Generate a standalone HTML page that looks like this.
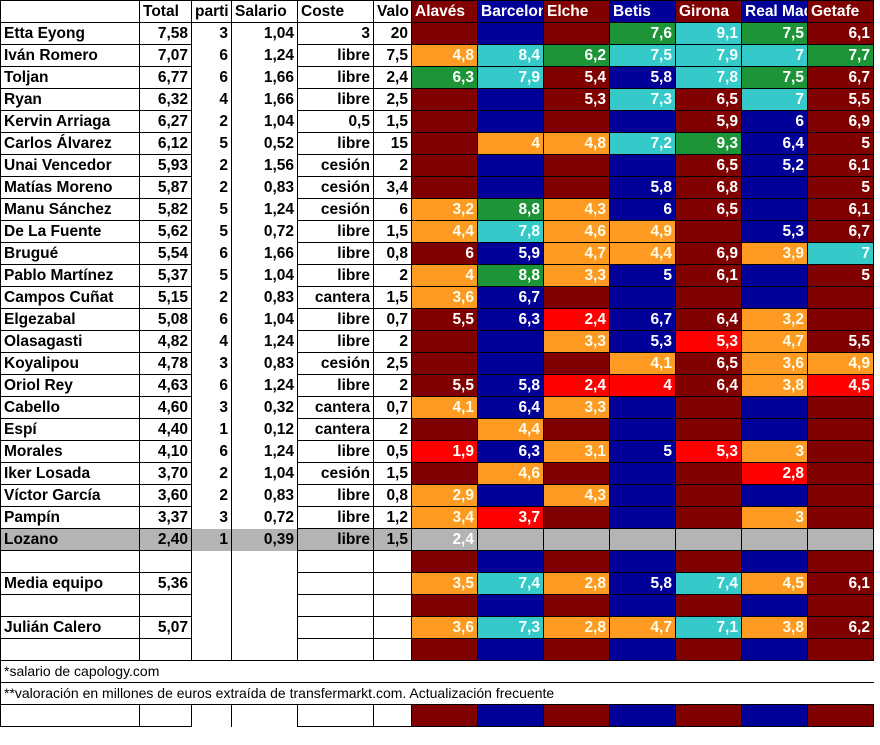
<!DOCTYPE html>
<html><head><meta charset="utf-8"><style>
body{margin:0;background:#fff;width:880px;height:745px;overflow:hidden}
table{border-collapse:collapse;table-layout:fixed;width:873px;font-family:"Liberation Sans",Arial,sans-serif;font-weight:bold;font-size:15.5px}
td{height:21px;padding:0 3px;border:1px solid #000;text-align:right;white-space:nowrap;overflow:hidden;line-height:21px}
td.l{text-align:left}
td.n{border-top:none;border-bottom:none}
tr.h td{text-align:left}
tr.h td.t{color:#fff}
.o{background:#ff9a22;color:#fffbe6}.c{background:#36c9c9;color:#f4ffff}.g{background:#1d9437;color:#fff}.r{background:#ff0000;color:#fff}
.d{color:#fff}
tr.gr td{background:#b4b4b4}
tr.f td{background:#fff;text-align:left;font-weight:normal;font-size:14px}
</style></head><body>
<table>
<colgroup><col style="width:139px;background:#fff"><col style="width:52px;background:#fff"><col style="width:40px;background:#fff"><col style="width:66px;background:#fff"><col style="width:76px;background:#fff"><col style="width:38px;background:#fff">
<col style="width:66px;background:#800000"><col style="width:66px;background:#000099"><col style="width:66px;background:#800000"><col style="width:66px;background:#000099"><col style="width:66px;background:#800000"><col style="width:66px;background:#000099"><col style="width:66px;background:#800000"></colgroup>
<tr class="h"><td></td><td>Total</td><td>parti</td><td>Salario</td><td>Coste</td><td style="text-align:right">Valo</td><td class="t">Alavés</td><td class="t">Barcelona</td><td class="t">Elche</td><td class="t">Betis</td><td class="t">Girona</td><td class="t">Real Madrid</td><td class="t">Getafe</td></tr>
<tr><td class="l">Etta Eyong</td><td>7,58</td><td class="n">3</td><td class="n">1,04</td><td>3</td><td>20</td><td></td><td></td><td></td><td class="g">7,6</td><td class="c">9,1</td><td class="g">7,5</td><td class="d">6,1</td></tr>
<tr><td class="l">Iván Romero</td><td>7,07</td><td class="n">6</td><td class="n">1,24</td><td>libre</td><td>7,5</td><td class="o">4,8</td><td class="c">8,4</td><td class="g">6,2</td><td class="c">7,5</td><td class="c">7,9</td><td class="c">7</td><td class="g">7,7</td></tr>
<tr><td class="l">Toljan</td><td>6,77</td><td class="n">6</td><td class="n">1,66</td><td>libre</td><td>2,4</td><td class="g">6,3</td><td class="c">7,9</td><td class="d">5,4</td><td class="d">5,8</td><td class="c">7,8</td><td class="g">7,5</td><td class="d">6,7</td></tr>
<tr><td class="l">Ryan</td><td>6,32</td><td class="n">4</td><td class="n">1,66</td><td>libre</td><td>2,5</td><td></td><td></td><td class="d">5,3</td><td class="c">7,3</td><td class="d">6,5</td><td class="c">7</td><td class="d">5,5</td></tr>
<tr><td class="l">Kervin Arriaga</td><td>6,27</td><td class="n">2</td><td class="n">1,04</td><td>0,5</td><td>1,5</td><td></td><td></td><td></td><td></td><td class="d">5,9</td><td class="d">6</td><td class="d">6,9</td></tr>
<tr><td class="l">Carlos Álvarez</td><td>6,12</td><td class="n">5</td><td class="n">0,52</td><td>libre</td><td>15</td><td></td><td class="o">4</td><td class="o">4,8</td><td class="c">7,2</td><td class="g">9,3</td><td class="d">6,4</td><td class="d">5</td></tr>
<tr><td class="l">Unai Vencedor</td><td>5,93</td><td class="n">2</td><td class="n">1,56</td><td>cesión</td><td>2</td><td></td><td></td><td></td><td></td><td class="d">6,5</td><td class="d">5,2</td><td class="d">6,1</td></tr>
<tr><td class="l">Matías Moreno</td><td>5,87</td><td class="n">2</td><td class="n">0,83</td><td>cesión</td><td>3,4</td><td></td><td></td><td></td><td class="d">5,8</td><td class="d">6,8</td><td></td><td class="d">5</td></tr>
<tr><td class="l">Manu Sánchez</td><td>5,82</td><td class="n">5</td><td class="n">1,24</td><td>cesión</td><td>6</td><td class="o">3,2</td><td class="g">8,8</td><td class="o">4,3</td><td class="d">6</td><td class="d">6,5</td><td></td><td class="d">6,1</td></tr>
<tr><td class="l">De La Fuente</td><td>5,62</td><td class="n">5</td><td class="n">0,72</td><td>libre</td><td>1,5</td><td class="o">4,4</td><td class="c">7,8</td><td class="o">4,6</td><td class="o">4,9</td><td></td><td class="d">5,3</td><td class="d">6,7</td></tr>
<tr><td class="l">Brugué</td><td>5,54</td><td class="n">6</td><td class="n">1,66</td><td>libre</td><td>0,8</td><td class="d">6</td><td class="d">5,9</td><td class="o">4,7</td><td class="o">4,4</td><td class="d">6,9</td><td class="o">3,9</td><td class="c">7</td></tr>
<tr><td class="l">Pablo Martínez</td><td>5,37</td><td class="n">5</td><td class="n">1,04</td><td>libre</td><td>2</td><td class="o">4</td><td class="g">8,8</td><td class="o">3,3</td><td class="d">5</td><td class="d">6,1</td><td></td><td class="d">5</td></tr>
<tr><td class="l">Campos Cuñat</td><td>5,15</td><td class="n">2</td><td class="n">0,83</td><td>cantera</td><td>1,5</td><td class="o">3,6</td><td class="d">6,7</td><td></td><td></td><td></td><td></td><td></td></tr>
<tr><td class="l">Elgezabal</td><td>5,08</td><td class="n">6</td><td class="n">1,04</td><td>libre</td><td>0,7</td><td class="d">5,5</td><td class="d">6,3</td><td class="r">2,4</td><td class="d">6,7</td><td class="d">6,4</td><td class="o">3,2</td><td></td></tr>
<tr><td class="l">Olasagasti</td><td>4,82</td><td class="n">4</td><td class="n">1,24</td><td>libre</td><td>2</td><td></td><td></td><td class="o">3,3</td><td class="d">5,3</td><td class="r">5,3</td><td class="o">4,7</td><td class="d">5,5</td></tr>
<tr><td class="l">Koyalipou</td><td>4,78</td><td class="n">3</td><td class="n">0,83</td><td>cesión</td><td>2,5</td><td></td><td></td><td></td><td class="o">4,1</td><td class="d">6,5</td><td class="o">3,6</td><td class="o">4,9</td></tr>
<tr><td class="l">Oriol Rey</td><td>4,63</td><td class="n">6</td><td class="n">1,24</td><td>libre</td><td>2</td><td class="d">5,5</td><td class="d">5,8</td><td class="r">2,4</td><td class="r">4</td><td class="d">6,4</td><td class="o">3,8</td><td class="r">4,5</td></tr>
<tr><td class="l">Cabello</td><td>4,60</td><td class="n">3</td><td class="n">0,32</td><td>cantera</td><td>0,7</td><td class="o">4,1</td><td class="d">6,4</td><td class="o">3,3</td><td></td><td></td><td></td><td></td></tr>
<tr><td class="l">Espí</td><td>4,40</td><td class="n">1</td><td class="n">0,12</td><td>cantera</td><td>2</td><td></td><td class="o">4,4</td><td></td><td></td><td></td><td></td><td></td></tr>
<tr><td class="l">Morales</td><td>4,10</td><td class="n">6</td><td class="n">1,24</td><td>libre</td><td>0,5</td><td class="r">1,9</td><td class="d">6,3</td><td class="o">3,1</td><td class="d">5</td><td class="r">5,3</td><td class="o">3</td><td></td></tr>
<tr><td class="l">Iker Losada</td><td>3,70</td><td class="n">2</td><td class="n">1,04</td><td>cesión</td><td>1,5</td><td></td><td class="o">4,6</td><td></td><td></td><td></td><td class="r">2,8</td><td></td></tr>
<tr><td class="l">Víctor García</td><td>3,60</td><td class="n">2</td><td class="n">0,83</td><td>libre</td><td>0,8</td><td class="o">2,9</td><td></td><td class="o">4,3</td><td></td><td></td><td></td><td></td></tr>
<tr><td class="l">Pampín</td><td>3,37</td><td class="n">3</td><td class="n">0,72</td><td>libre</td><td>1,2</td><td class="o">3,4</td><td class="r">3,7</td><td></td><td></td><td></td><td class="o">3</td><td></td></tr>
<tr class="gr"><td class="l">Lozano</td><td>2,40</td><td class="n">1</td><td class="n">0,39</td><td>libre</td><td>1,5</td><td class="d">2,4</td><td></td><td></td><td></td><td></td><td></td><td></td></tr>
<tr><td></td><td></td><td class="n"></td><td class="n"></td><td></td><td></td><td></td><td></td><td></td><td></td><td></td><td></td><td></td></tr>
<tr><td class="l">Media equipo</td><td>5,36</td><td class="n"></td><td class="n"></td><td></td><td></td><td class="o">3,5</td><td class="c">7,4</td><td class="o">2,8</td><td class="d">5,8</td><td class="c">7,4</td><td class="o">4,5</td><td class="d">6,1</td></tr>
<tr><td></td><td></td><td class="n"></td><td class="n"></td><td></td><td></td><td></td><td></td><td></td><td></td><td></td><td></td><td></td></tr>
<tr><td class="l">Julián Calero</td><td>5,07</td><td class="n"></td><td class="n"></td><td></td><td></td><td class="o">3,6</td><td class="c">7,3</td><td class="o">2,8</td><td class="o">4,7</td><td class="c">7,1</td><td class="o">3,8</td><td class="d">6,2</td></tr>
<tr><td></td><td></td><td class="n"></td><td class="n"></td><td></td><td></td><td></td><td></td><td></td><td></td><td></td><td></td><td></td></tr>
<tr class="f"><td colspan="13" style="border-right:none">*salario de capology.com</td></tr>
<tr class="f"><td colspan="13" style="border-right:none">**valoración en millones de euros extraída de transfermarkt.com. Actualización frecuente</td></tr>
<tr><td></td><td></td><td class="n"></td><td class="n"></td><td></td><td></td><td></td><td></td><td></td><td></td><td></td><td></td><td></td></tr>
</table>
</body></html>
